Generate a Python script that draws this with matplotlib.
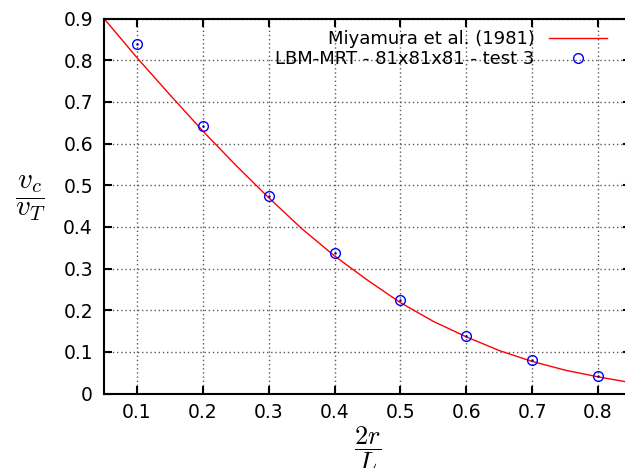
import matplotlib
matplotlib.use("Agg")
import matplotlib.pyplot as plt

plt.rcParams["mathtext.fontset"] = "cm"
plt.rcParams["font.family"] = "DejaVu Sans"

# Miyamura et al. (1981) correlation
miyamura_x = [0.05, 0.10, 0.15, 0.20, 0.25, 0.30, 0.35, 0.40, 0.45,
              0.50, 0.55, 0.60, 0.65, 0.70, 0.75, 0.80, 0.85]
miyamura_y = [0.900, 0.806, 0.717, 0.630, 0.548, 0.470, 0.396, 0.330, 0.272,
              0.218, 0.173, 0.136, 0.103, 0.077, 0.056, 0.040, 0.026]

# LBM-MRT simulation points
lbm_x = [0.1, 0.2, 0.3, 0.4, 0.5, 0.6, 0.7, 0.8]
lbm_y = [0.840, 0.643, 0.475, 0.336, 0.224, 0.139, 0.080, 0.042]

xticks = [0.1, 0.2, 0.3, 0.4, 0.5, 0.6, 0.7, 0.8]
yticks = [0, 0.1, 0.2, 0.3, 0.4, 0.5, 0.6, 0.7, 0.8, 0.9]

W, H = 625, 468
fig = plt.figure(figsize=(W / 100, H / 100), dpi=100)
ax = fig.add_axes([104 / W, (H - 393.5) / H, (631 - 104) / W, 375 / H])

ax.plot(miyamura_x, miyamura_y, color="red", linewidth=1.0,
        label="Miyamura et al. (1981)")
ax.plot(lbm_x, lbm_y, linestyle="none", marker="o", markersize=7,
        markerfacecolor="none", markeredgecolor="blue", markeredgewidth=1.0,
        label="LBM-MRT - 81x81x81 - test 3")
ax.plot(lbm_x, lbm_y, linestyle="none", marker=".", markersize=1.5, color="#000080")

ax.set_xlim(0.05, 0.85)
ax.set_ylim(0, 0.9)
ax.set_xticks(xticks)
ax.set_yticks(yticks)
ax.set_xticklabels([f"{v:g}" for v in xticks])
ax.set_yticklabels([f"{v:g}" for v in yticks])

ax.grid(True, color="0.35", linestyle=(0, (1, 2)), linewidth=1.0)
ax.tick_params(direction="in", length=5.5, width=1.5, labelsize=13.5,
               top=True, right=True, pad=7)
ax.tick_params(axis="y", pad=8)
for s in ax.spines.values():
    s.set_linewidth(1.5)

leg = ax.legend(loc="upper right", bbox_to_anchor=(607 / W, (H - 30) / H),
                bbox_transform=fig.transFigure, frameon=False, fontsize=13,
                markerfirst=False, handlelength=3.2, handletextpad=0.8,
                labelspacing=0.12, borderaxespad=0, borderpad=0)
for t in leg.get_texts():
    t.set_ha("right")

fig.text(30 / W, (H - 198) / H, r"$\dfrac{v_c}{v_T}$", fontsize=21,
         ha="center", va="center")
fig.text(367.5 / W, (H - 449) / H, r"$\dfrac{2r}{L}$", fontsize=19,
         ha="center", va="center")

fig.savefig("out.png", dpi=100)
